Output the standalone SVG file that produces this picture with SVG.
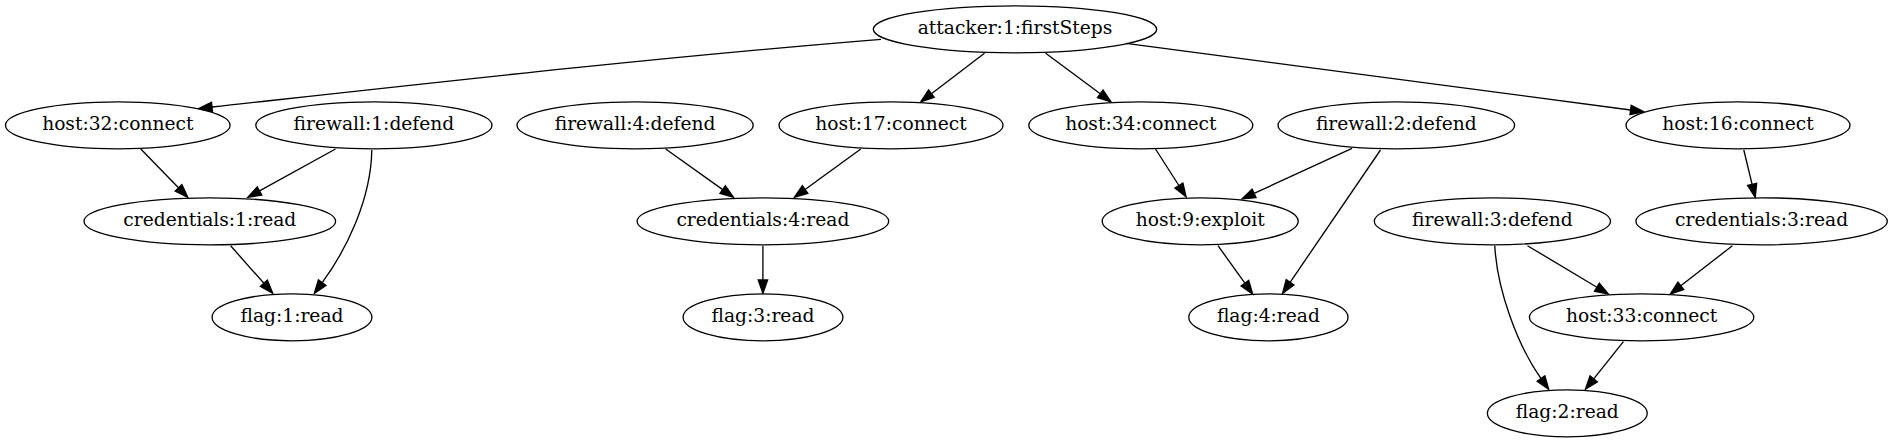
<svg xmlns="http://www.w3.org/2000/svg" width="1894" height="443" viewBox="0 0 1894 443">
<style>
.n ellipse{fill:none;stroke:#000;stroke-width:1.33}
.n text{font-family:"DejaVu Serif",serif;font-size:18.67px;text-anchor:middle;fill:#000}
.e path{fill:none;stroke:#000;stroke-width:1.33;marker-end:url(#ah)}
</style>
<defs>
<marker id="ah" markerUnits="userSpaceOnUse" markerWidth="16" markerHeight="12" refX="0" refY="4.7" orient="auto" viewBox="0 0 16 12" overflow="visible">
<path d="M0,0 L13.3,4.7 L0,9.4 Z" fill="#000" stroke="#000" stroke-width="1.33"/>
</marker>
</defs>
<rect width="1894" height="443" fill="#fff"/>
<g id="edges" class="e">
<path d="M881,39.3 C658,57.3 435,82.5 212,107"/>
<path d="M984.5,53.3 L931.4,93.7"/>
<path d="M1045.7,53.3 L1100.3,93.8"/>
<path d="M1126,43.3 L1630.6,110"/>
<path d="M140.8,149 L178.5,187.8"/>
<path d="M335.5,149 L259.5,190.9"/>
<path d="M371.8,150 C371,200 345.9,250.4 322.2,282.6"/>
<path d="M230.6,245.7 L263.9,283.3"/>
<path d="M665.7,149 L722.7,189.6"/>
<path d="M860.8,149 L805.1,189.5"/>
<path d="M762.9,245.7 L762.9,280"/>
<path d="M1155.5,149 L1178.9,185.5"/>
<path d="M1352,148.3 L1254.1,193.4"/>
<path d="M1380.5,150 L1290.1,282.3"/>
<path d="M1218,245.7 L1244.9,283.2"/>
<path d="M1743.8,150 L1752.1,184.4"/>
<path d="M1527.5,245.7 L1596.9,287.2"/>
<path d="M1732.4,245.7 L1680.8,285.8"/>
<path d="M1494.8,245.7 C1497,290 1517.8,346 1541,378.5"/>
<path d="M1623.4,341.7 L1593.7,378.9"/>
</g>
<g id="attacker" class="n"><ellipse cx="1015" cy="29.3" rx="141.7" ry="23.5"/><text x="1015" y="34">attacker:1:firstSteps</text></g>
<g id="host32" class="n"><ellipse cx="117.8" cy="125.3" rx="112.3" ry="23.5"/><text x="117.8" y="130">host:32:connect</text></g>
<g id="firewall1" class="n"><ellipse cx="373.9" cy="125.3" rx="118.1" ry="23.5"/><text x="373.9" y="130">firewall:1:defend</text></g>
<g id="firewall4" class="n"><ellipse cx="635.1" cy="125.3" rx="118.1" ry="23.5"/><text x="635.1" y="130">firewall:4:defend</text></g>
<g id="host17" class="n"><ellipse cx="891" cy="125.3" rx="112" ry="23.5"/><text x="891" y="130">host:17:connect</text></g>
<g id="host34" class="n"><ellipse cx="1140.8" cy="125.3" rx="112" ry="23.5"/><text x="1140.8" y="130">host:34:connect</text></g>
<g id="firewall2" class="n"><ellipse cx="1396.3" cy="125.3" rx="118.3" ry="23.5"/><text x="1396.3" y="130">firewall:2:defend</text></g>
<g id="host16" class="n"><ellipse cx="1738" cy="125.3" rx="112" ry="23.5"/><text x="1738" y="130">host:16:connect</text></g>
<g id="credentials1" class="n"><ellipse cx="209.8" cy="221.3" rx="125.8" ry="23.5"/><text x="209.8" y="226">credentials:1:read</text></g>
<g id="credentials4" class="n"><ellipse cx="762.9" cy="221.3" rx="125.8" ry="23.5"/><text x="762.9" y="226">credentials:4:read</text></g>
<g id="host9" class="n"><ellipse cx="1200.2" cy="221.3" rx="98" ry="23.5"/><text x="1200.2" y="226">host:9:exploit</text></g>
<g id="firewall3" class="n"><ellipse cx="1492.4" cy="221.3" rx="118.1" ry="23.5"/><text x="1492.4" y="226">firewall:3:defend</text></g>
<g id="credentials3" class="n"><ellipse cx="1761.6" cy="221.3" rx="125.7" ry="23.5"/><text x="1761.6" y="226">credentials:3:read</text></g>
<g id="flag1" class="n"><ellipse cx="292" cy="317.3" rx="79.9" ry="23.5"/><text x="292" y="322">flag:1:read</text></g>
<g id="flag3" class="n"><ellipse cx="763" cy="317.3" rx="79.9" ry="23.5"/><text x="763" y="322">flag:3:read</text></g>
<g id="flag4" class="n"><ellipse cx="1268.4" cy="317.3" rx="79.6" ry="23.5"/><text x="1268.4" y="322">flag:4:read</text></g>
<g id="host33" class="n"><ellipse cx="1641.6" cy="317.3" rx="112.2" ry="23.5"/><text x="1641.6" y="322">host:33:connect</text></g>
<g id="flag2" class="n"><ellipse cx="1567.3" cy="413.3" rx="79.9" ry="23.5"/><text x="1567.3" y="418">flag:2:read</text></g>
</svg>
